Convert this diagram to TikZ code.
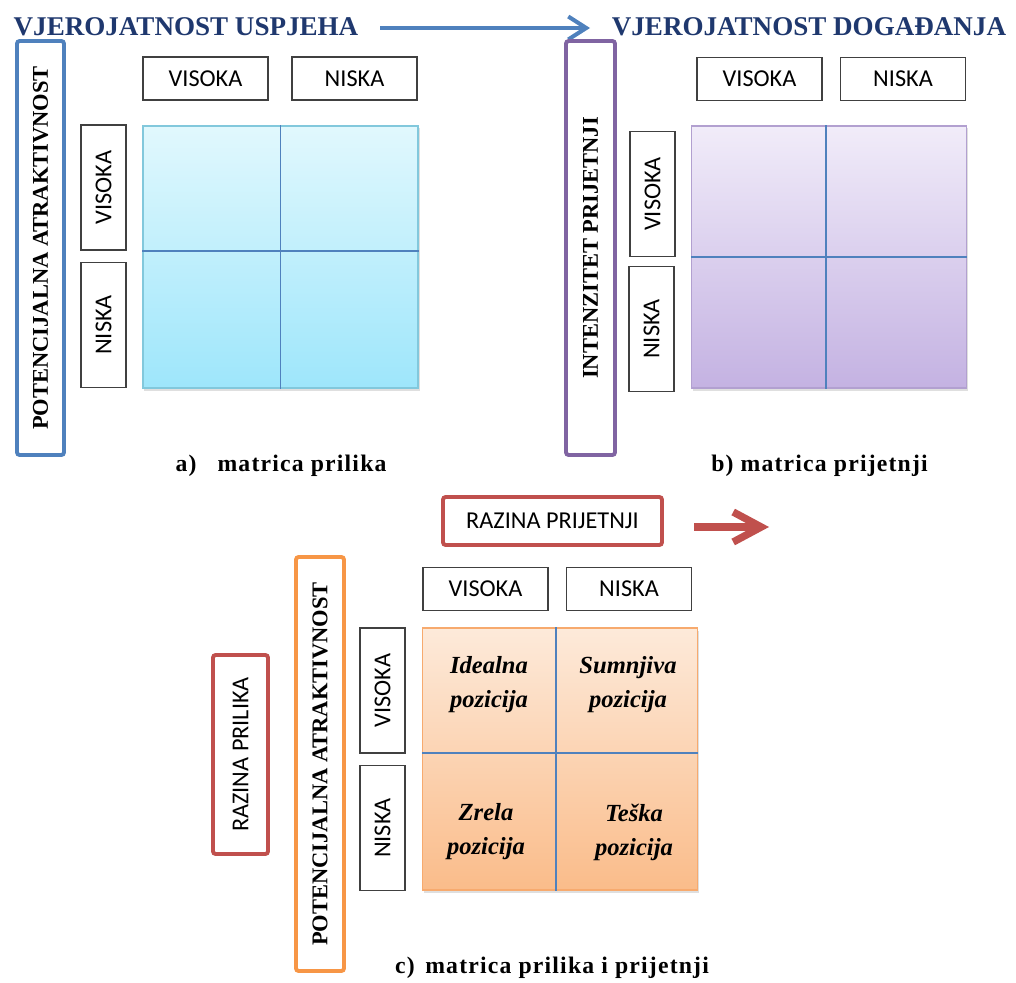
\documentclass[tikz,border=0pt]{standalone}
\usepackage{fontspec}
\setmainfont{Liberation Serif}
\newfontfamily\boxfont{Carlito}
\newfontfamily\capfont[LetterSpace=5]{Liberation Serif}
\usepackage{xcolor}
\usepackage{tikz}
\usetikzlibrary{calc}
\usetikzlibrary{arrows.meta}
\usetikzlibrary{shadows}
\definecolor{titleblue}{RGB}{31,56,110}
\definecolor{divblue}{RGB}{79,129,189}
\definecolor{frameblue}{RGB}{79,129,189}
\definecolor{framepurple}{RGB}{128,100,162}
\definecolor{frameorange}{RGB}{247,150,70}
\definecolor{framered}{RGB}{192,80,77}
\definecolor{cyantop}{RGB}{225,248,253}
\definecolor{cyanbot}{RGB}{158,230,251}
\definecolor{cyanedge}{RGB}{130,200,220}
\definecolor{lilatop}{RGB}{241,236,249}
\definecolor{lilabot}{RGB}{196,178,226}
\definecolor{lilaedge}{RGB}{178,160,208}
\definecolor{orangetop}{RGB}{253,234,218}
\definecolor{orangebot}{RGB}{250,188,138}
\definecolor{orangeedge}{RGB}{247,170,110}

\begin{document}
\begin{tikzpicture}[x=0.2mm,y=-0.2mm]
%
\tikzstyle{lbl}=[draw=black!75,line width=0.75pt,shape=rectangle,minimum width=25mm,minimum height=8.6mm,inner sep=0pt,font=\boxfont\fontsize{13.8}{16}\selectfont]
\tikzstyle{lblv}=[lbl,rotate=90,minimum height=9mm]
\tikzstyle{frame}=[draw,line width=2.2pt,rounded corners=1.5pt,rotate=90,minimum width=82.8mm,minimum height=9.6mm,inner sep=0pt,font=\bfseries\fontsize{12.8}{15}\selectfont]
\tikzstyle{mat}=[draw,line width=0.7pt,shape=rectangle,minimum width=55mm,minimum height=52.4mm,inner sep=0pt,drop shadow={shadow xshift=0.3mm,shadow yshift=-0.5mm,opacity=0.25}]
\tikzstyle{div}=[draw=divblue,line width=0.6pt]
\tikzstyle{title}=[text=titleblue,font=\bfseries\fontsize{15.4}{18}\selectfont]
\tikzstyle{captxt}=[font=\capfont\bfseries\fontsize{13.5}{16}\selectfont]
\tikzstyle{cell}=[align=center,font=\bfseries\itshape\fontsize{14}{19.3}\selectfont]
%
\useasboundingbox (0,0) rectangle (1016,983);
%
% a) matrica prilika
\node[title](tu) at (186,27){VJEROJATNOST USPJEHA};
\node[title](td) at (809,27){VJEROJATNOST DOGAĐANJA};
\coordinate (ba1) at (380,28);
\coordinate (ba2) at (590,28);
\draw[draw=frameblue,line width=2.3pt,-{Straight Barb[length=3.6mm,width=4.6mm]}] (ba1) -- (ba2);
%
\node[frame,draw=frameblue,minimum height=9.4mm](fa) at (40.5,248){POTENCIJALNA ATRAKTIVNOST};
\node[lbl](ahv) at (205.5,78.5){VISOKA};
\node[lbl](ahn) at (354.5,78.5){NISKA};
\node[lblv](avv) at (103.5,187.5){VISOKA};
\node[lblv](avn) at (103.5,325){NISKA};
\node[mat,draw=cyanedge,top color=cyantop,bottom color=cyanbot](ma) at (280.5,257){};
\draw[div] (ma.north) -- (ma.south);
\draw[div] ($(ma.west)+(0,-6)$) -- ($(ma.east)+(0,-6)$);
\node[captxt](capa) at (281,466){a)\hspace{12pt}matrica prilika};
%
% b) matrica prijetnji
\node[frame,draw=framepurple,minimum height=9.8mm](fb) at (590.5,248){INTENZITET PRIJETNJI};
\node[lbl](bhv) at (759.5,79){VISOKA};
\node[lbl](bhn) at (903,79){NISKA};
\node[lblv](bvv) at (652.5,194){VISOKA};
\node[lblv](bvn) at (651.5,329){NISKA};
\node[mat,draw=lilaedge,top color=lilatop,bottom color=lilabot](mb) at (829,257){};
\draw[div] ($(mb.north)+(-3,0)$) -- ($(mb.south)+(-3,0)$);
\draw[div] (mb.west) -- (mb.east);
\node[captxt](capb) at (819.5,466){b) matrica prijetnji};
%
% c) matrica prilika i prijetnji
\node[lbl,draw=framered,line width=2.2pt,rounded corners=1.5pt,minimum width=43.8mm,minimum height=9.6mm](rp) at (552.5,521){RAZINA PRIJETNJI};
\coordinate (ra1) at (694,527);
\coordinate (ra2) at (769,527);
\draw[draw=framered,line width=4.2pt,-{Straight Barb[length=5.6mm,width=6mm]}] (ra1) -- (ra2);
\node[lblv,draw=framered,line width=2.2pt,rounded corners=1.5pt,minimum width=39.8mm,minimum height=11mm](rl) at (240.5,754.5){RAZINA PRILIKA};
\node[frame,draw=frameorange](fc) at (320,764){POTENCIJALNA ATRAKTIVNOST};
\node[lbl](chv) at (485.5,589){VISOKA};
\node[lbl](chn) at (629,589){NISKA};
\node[lblv](cvv) at (382.5,690.5){VISOKA};
\node[lblv](cvn) at (382.5,828){NISKA};
\node[mat,draw=orangeedge,top color=orangetop,bottom color=orangebot](mc) at (560,759){};
\draw[div] ($(mc.north)+(-4,0)$) -- ($(mc.south)+(-4,0)$);
\draw[div] ($(mc.west)+(0,-6)$) -- ($(mc.east)+(0,-6)$);
\node[cell](c11) at (489,685){Idealna\\pozicija};
\node[cell](c12) at (628,685){Sumnjiva\\pozicija};
\node[cell](c21) at (486,832){Zrela\\pozicija};
\node[cell](c22) at (634,832){Teška\\pozicija};
\node[captxt](capc) at (552,968){c)\hspace{6pt}matrica prilika i prijetnji};
\end{tikzpicture}
\end{document}
